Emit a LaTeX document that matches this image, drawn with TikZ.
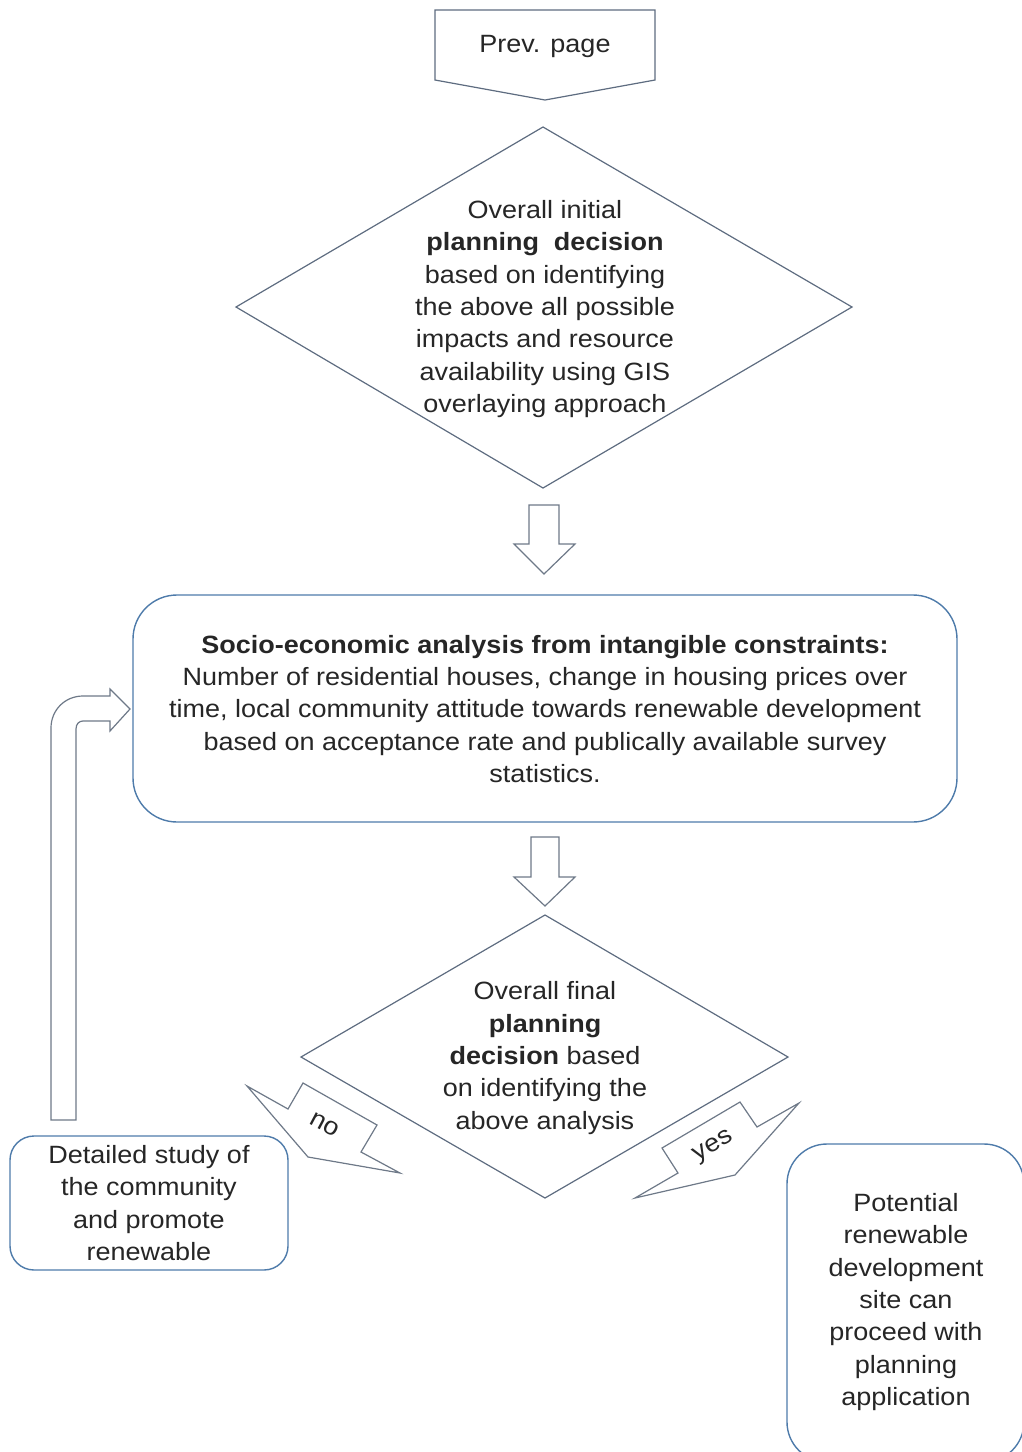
\documentclass[tikz,border=0pt]{standalone}
\usepackage{fontspec}
\setmainfont{Liberation Sans}[FakeStretch=1.08]
\begin{document}
\begin{tikzpicture}[x=1pt,y=-1pt,
  txt/.style={align=center,inner sep=0pt,text=black!85,font=\fontsize{25}{32.4}\selectfont},
  flowline/.style={draw=diamc,line width=1.2pt,line join=miter},
  roundbox/.style={draw=boxc,line width=1.4pt},
  blockarrow/.style={draw=arrc,line width=1.2pt,line join=miter,fill=white}]
\definecolor{diamc}{HTML}{5E6C80}
\definecolor{boxc}{HTML}{4E7BAA}
\definecolor{arrc}{HTML}{6E7988}
\useasboundingbox (0,0) rectangle (1022,1452);
\clip (0,0) rectangle (1022,1452);

% off-page connector
\draw[flowline] (435,10) -- (655,10) -- (655,80) -- (545,100) -- (435,80) -- cycle;
\node[txt] (prev) at (545,46) {Prev. page};

% first decision
\draw[flowline] (543,127) -- (852,307) -- (543,488) -- (236,307) -- cycle;
\node[txt] (dec1) at (545,309) {Overall initial\\
  \textbf{planning\ \ decision}\\
  based on identifying\\
  the above all possible\\
  impacts and resource\\
  availability using GIS\\
  overlaying approach};

% down arrow 1
\draw[blockarrow] (529,505) -- (559,505) -- (559,544) -- (575,544) -- (544,574)
  -- (514,544) -- (529,544) -- cycle;

% socio-economic analysis box
\draw[roundbox,rounded corners=44pt] (133,595) rectangle (957,822);
\node[txt] (socio) at (545,709) {\textbf{Socio-economic analysis from intangible constraints:}\\
  Number of residential houses, change in housing prices over\\
  time, local community attitude towards renewable development\\
  based on acceptance rate and publically available survey\\
  statistics.};

% down arrow 2
\draw[blockarrow] (531,837) -- (559,837) -- (559,877) -- (575,877) -- (545,906)
  -- (514,877) -- (531,877) -- cycle;

% final decision
\draw[flowline] (545,915) -- (788,1057) -- (545,1198) -- (301,1057) -- cycle;
\node[txt] (dec2) at (545,1058) {Overall final\\
  \textbf{planning}\\
  \textbf{decision} based\\
  on identifying the\\
  above analysis};

% "no" branch arrow
\draw[blockarrow] (247,1086) -- (288,1109) -- (303,1083) -- (377,1125) -- (361,1152)
  -- (400,1173) -- (308,1157) -- cycle;
\node[txt,rotate=-28] (no) at (325,1125) {no};

% "yes" branch arrow
\draw[blockarrow] (635,1198) -- (678,1173) -- (662,1148) -- (740,1102) -- (757,1127)
  -- (799,1103) -- (735,1175) -- cycle;
\node[txt,rotate=30] (yes) at (714,1147) {yes};

% detailed study box
\draw[roundbox,rounded corners=24pt] (10,1136) rectangle (288,1270);
\node[txt] (study) at (149,1203) {Detailed study of\\
  the community\\
  and promote\\
  renewable};

% return arrow back to the analysis box
\draw[blockarrow] (51,1120) -- (51,728) .. controls (51,710) and (65,696) .. (83,696)
  -- (110,696) -- (110,689) -- (130,709) -- (110,731) -- (110,721) -- (83,721)
  .. controls (79,721) and (76,724) .. (76,729) -- (76,1120) -- cycle;

% potential site box
\draw[roundbox,rounded corners=40pt] (787,1144) rectangle (1024,1462);
\node[txt] (site) at (906,1302) {Potential\\
  renewable\\
  development\\
  site can\\
  proceed with\\
  planning\\
  application};
\end{tikzpicture}
\end{document}
